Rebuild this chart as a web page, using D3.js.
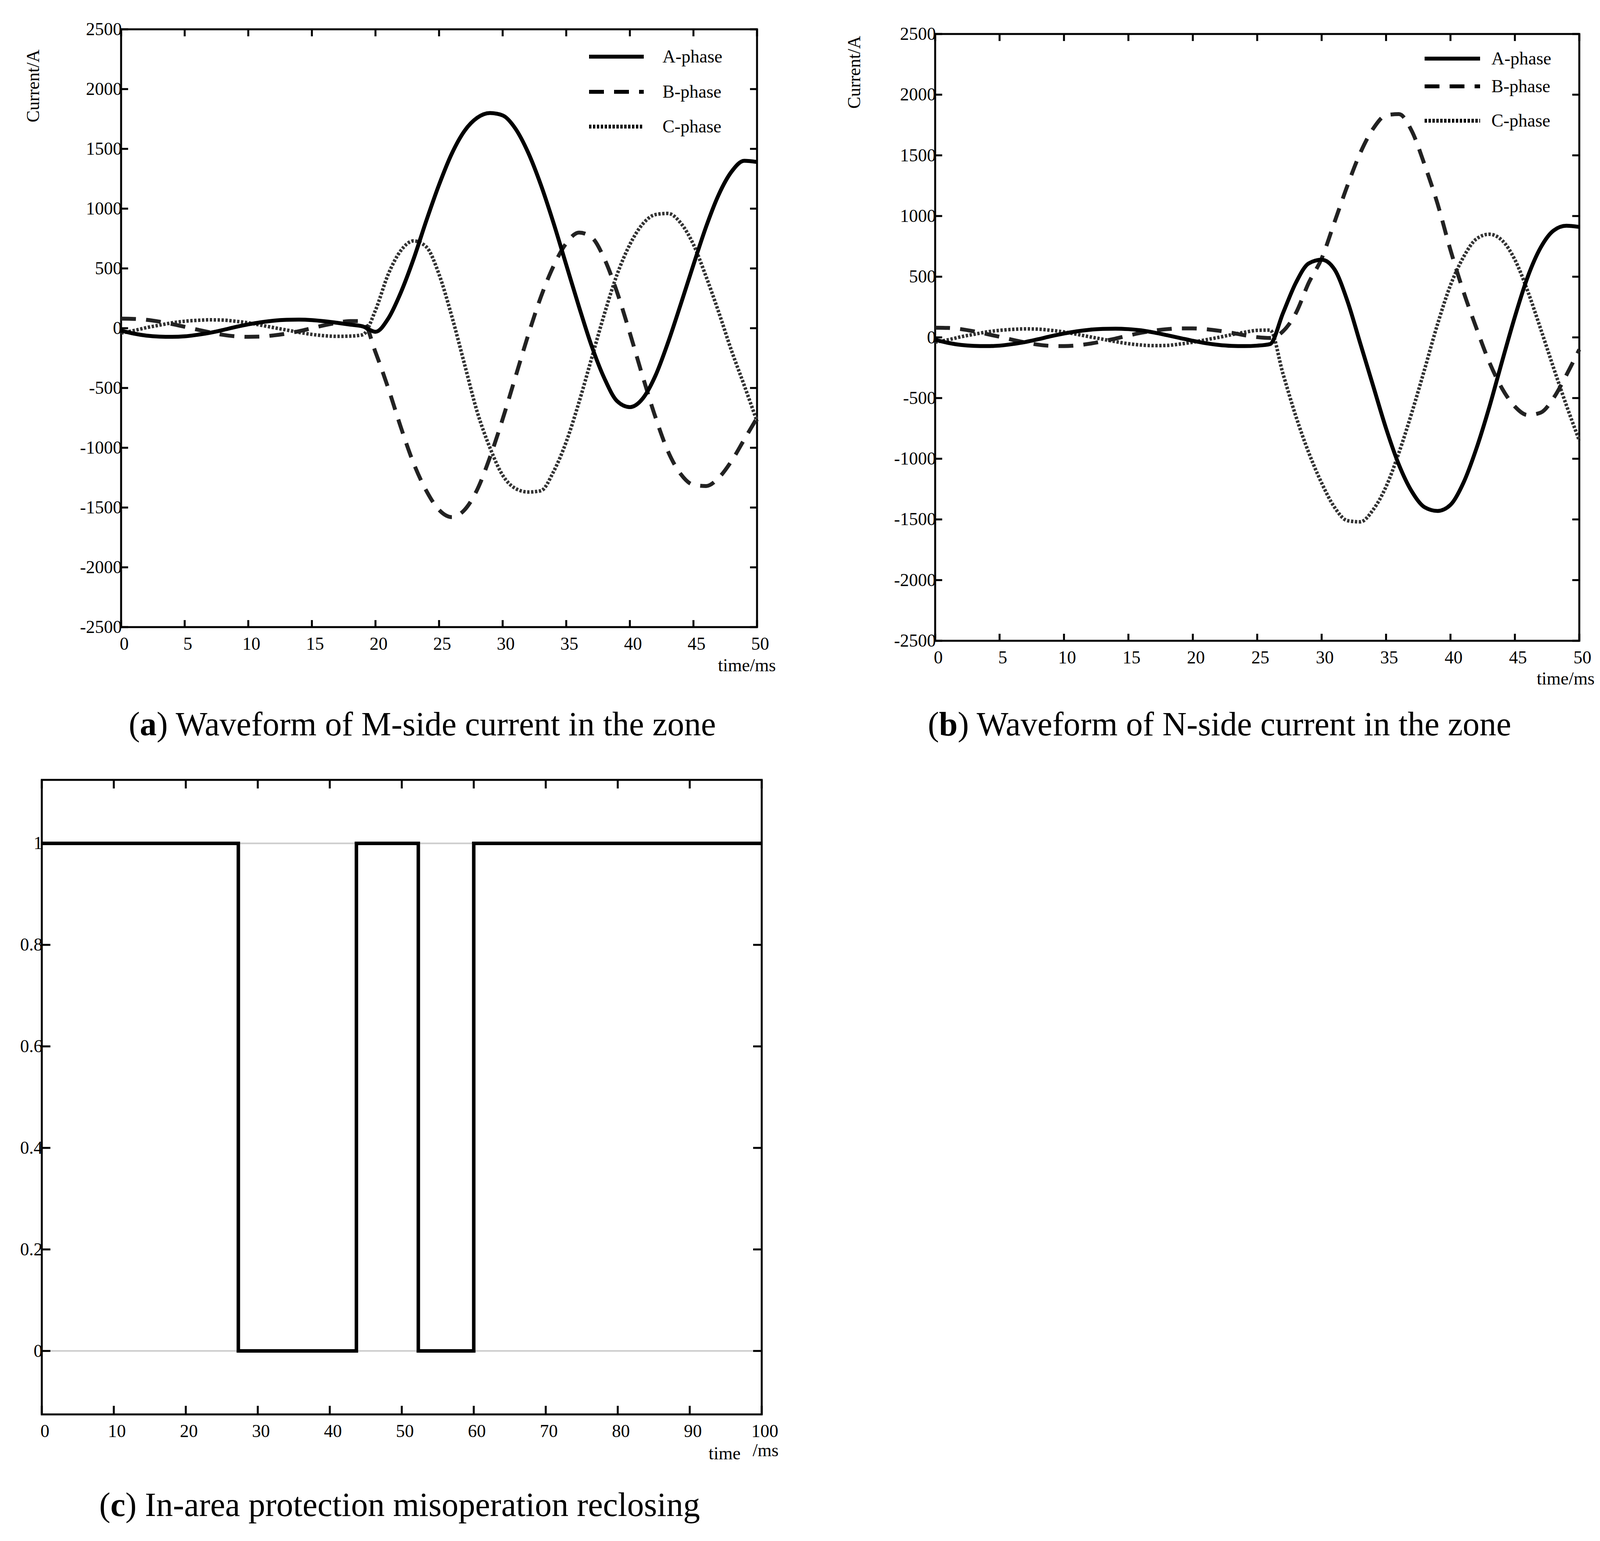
<!DOCTYPE html>
<html>
<head>
<meta charset="utf-8">
<script src="https://cdn.jsdelivr.net/npm/d3@7"></script>
<style>
  body { margin: 0; background: #fff; }
  text { font-family: "Liberation Serif", serif; }
</style>
</head>
<body>
<svg id="fig" width="4135" height="3944"></svg>
<script>
// time samples (ms) for the current waveforms
const timeMs = d3.range(0, 51);

// M-side currents (A)
const mA = [-20,-45,-62,-70,-72,-68,-55,-38,-15,10,32,50,63,70,72,68,58,45,30,15,-30,80,300,580,900,1200,1460,1650,1760,1800,1780,1670,1470,1200,880,530,180,-150,-420,-610,-660,-590,-400,-120,200,530,850,1120,1310,1400,1390];
const mB = [80,78,70,55,35,12,-12,-35,-55,-68,-72,-70,-60,-45,-25,0,25,45,60,60,-200,-500,-830,-1130,-1360,-1520,-1580,-1520,-1350,-1080,-760,-410,-60,260,520,710,800,760,580,300,-40,-400,-740,-1030,-1220,-1310,-1320,-1250,-1110,-930,-750];
const mC = [-40,-20,5,25,45,58,66,70,68,58,45,25,5,-15,-35,-52,-63,-68,-66,-55,150,450,650,730,680,450,100,-300,-700,-1000,-1230,-1340,-1370,-1360,-1200,-950,-620,-250,120,450,700,870,950,960,880,700,430,130,-190,-480,-780];

// N-side currents (A)
const nA = [-20,-45,-62,-70,-72,-68,-55,-38,-15,10,32,50,63,70,72,68,58,40,18,-5,-28,-48,-62,-70,-72,-68,-55,200,450,610,640,560,300,-50,-400,-750,-1050,-1270,-1400,-1430,-1380,-1200,-920,-580,-200,170,500,740,880,920,910];
const nB = [80,78,68,50,28,5,-20,-42,-60,-70,-72,-66,-52,-32,-10,15,38,56,68,74,74,68,55,38,18,2,-5,50,200,450,650,950,1250,1520,1720,1830,1840,1700,1420,1100,720,380,80,-200,-420,-570,-640,-620,-500,-310,-100];
const nC = [-40,-20,5,25,45,58,66,70,68,58,45,25,5,-15,-35,-52,-63,-68,-66,-55,-40,-20,0,22,42,58,60,-300,-650,-950,-1200,-1400,-1510,-1520,-1420,-1230,-950,-620,-260,110,430,660,810,850,800,640,380,70,-250,-560,-850];

const currentTicks = [-2500,-2000,-1500,-1000,-500,0,500,1000,1500,2000,2500];
const timeTicks50 = [0,5,10,15,20,25,30,35,40,45,50];
const phaseNames = ["A-phase","B-phase","C-phase"];

// protection output signal (step)
const sigTime = [0, 27.3, 43.7, 52.3, 60, 100];
const sigValue = [1, 0, 1, 0, 1, 1];
const sigYTicks = [0, 0.2, 0.4, 0.6, 0.8, 1];
const sigXTicks = [0,10,20,30,40,50,60,70,80,90,100];

const svg = d3.select("#fig");
const styles = [
  {stroke: "#000", width: 10, dash: null},
  {stroke: "#222", width: 10, dash: "38,26"},
  {stroke: "#333", width: 9, dash: "6,4"}
];

function frame(g, x, y, xTicks, yTicks, fmtY, tickLen) {
  const [x0, x1] = x.range(), [y1, y0] = y.range();
  g.append("rect").attr("x", x0).attr("y", y0).attr("width", x1 - x0).attr("height", y1 - y0)
    .attr("fill", "none").attr("stroke", "#000").attr("stroke-width", 5);
  xTicks.forEach(t => {
    g.append("line").attr("x1", x(t)).attr("x2", x(t)).attr("y1", y1).attr("y2", y1 - tickLen).attr("stroke", "#000").attr("stroke-width", 5);
    g.append("line").attr("x1", x(t)).attr("x2", x(t)).attr("y1", y0).attr("y2", y0 + tickLen).attr("stroke", "#000").attr("stroke-width", 5);
    g.append("text").attr("x", x(t) + 8).attr("y", y1 + 58).attr("text-anchor", "middle").attr("font-size", 46).text(t);
  });
  yTicks.forEach(t => {
    g.append("line").attr("x1", x0).attr("x2", x0 + tickLen).attr("y1", y(t)).attr("y2", y(t)).attr("stroke", "#000").attr("stroke-width", 5);
    g.append("line").attr("x1", x1).attr("x2", x1 - tickLen).attr("y1", y(t)).attr("y2", y(t)).attr("stroke", "#000").attr("stroke-width", 5);
    g.append("text").attr("x", x0 + 2).attr("y", y(t) + 15).attr("text-anchor", "end").attr("font-size", 46).text(fmtY(t));
  });
}

function waveChart(box, series, legend, labels) {
  const g = svg.append("g");
  const x = d3.scaleLinear().domain([0, 50]).range([box.l, box.r]);
  const y = d3.scaleLinear().domain([-2500, 2500]).range([box.b, box.t]);
  frame(g, x, y, timeTicks50, currentTicks, d => d, 18);
  const line = d3.line().x((d, i) => x(timeMs[i])).y(d => y(d)).curve(d3.curveMonotoneX);
  [2, 1, 0].forEach(k => {
    g.append("path").attr("d", line(series[k])).attr("fill", "none")
      .attr("stroke", styles[k].stroke).attr("stroke-width", styles[k].width)
      .attr("stroke-dasharray", styles[k].dash);
  });
  phaseNames.forEach((n, k) => {
    g.append("line").attr("x1", legend.x1).attr("x2", legend.x2).attr("y1", legend.ys[k]).attr("y2", legend.ys[k])
      .attr("stroke", "#000").attr("stroke-width", 10).attr("stroke-dasharray", styles[k].dash);
    g.append("text").attr("x", legend.tx).attr("y", legend.ys[k] + 15).attr("font-size", 46).text(n);
  });
  g.append("text").attr("transform", `translate(${labels.cx},${labels.cy}) rotate(-90)`)
    .attr("text-anchor", "middle").attr("font-size", 46).text("Current/A");
  g.append("text").attr("x", labels.tx).attr("y", labels.ty).attr("text-anchor", "middle").attr("font-size", 46).text("time/ms");
}

waveChart({l: 310, r: 1938, t: 75, b: 1605}, [mA, mB, mC],
  {x1: 1508, x2: 1648, tx: 1696, ys: [145, 235, 324]},
  {cx: 100, cy: 220, tx: 1912, ty: 1718});
waveChart({l: 2394, r: 4043, t: 87, b: 1640}, [nA, nB, nC],
  {x1: 3647, x2: 3789, tx: 3818, ys: [150, 221, 309]},
  {cx: 2202, cy: 185, tx: 4008, ty: 1752});

// step chart
(function () {
  const g = svg.append("g");
  const x = d3.scaleLinear().domain([0, 100]).range([107, 1950]);
  const y = d3.scaleLinear().domain([-0.125, 1.125]).range([3620, 1996]);
  [0, 1].forEach(v => g.append("line").attr("x1", x(0)).attr("x2", x(100)).attr("y1", y(v)).attr("y2", y(v))
    .attr("stroke", "#ccc").attr("stroke-width", 4));
  frame(g, x, y, sigXTicks, sigYTicks, d => d, 22);
  const pts = sigTime.map((t, i) => [t, sigValue[i]]);
  g.append("path").attr("d", d3.line().x(d => x(d[0])).y(d => y(d[1])).curve(d3.curveStepAfter)(pts))
    .attr("fill", "none").attr("stroke", "#000").attr("stroke-width", 9);
  g.append("text").attr("x", 1855).attr("y", 3735).attr("text-anchor", "middle").attr("font-size", 46).text("time");
  g.append("text").attr("x", 1960).attr("y", 3727).attr("text-anchor", "middle").attr("font-size", 46).text("/ms");
})();

// captions
const captions = [
  {x: 1081, y: 1882, k: "a", t: " Waveform of M-side current in the zone"},
  {x: 3122, y: 1882, k: "b", t: " Waveform of N-side current in the zone"},
  {x: 1023, y: 3880, k: "c", t: " In-area protection misoperation reclosing"}
];
captions.forEach(c => {
  const t = svg.append("text").attr("x", c.x).attr("y", c.y).attr("text-anchor", "middle").attr("font-size", 86);
  t.append("tspan").text("(");
  t.append("tspan").attr("font-weight", "bold").text(c.k);
  t.append("tspan").text(")" + c.t);
});
</script>
</body>
</html>
